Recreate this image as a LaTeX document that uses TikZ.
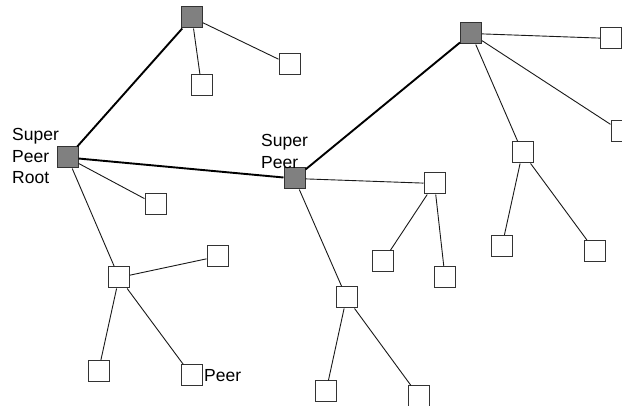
\documentclass[tikz,border=0pt]{standalone}
\usepackage{fontspec}
\setmainfont{Liberation Sans}
\begin{document}
\begin{tikzpicture}[x=1pt,y=-1pt,
  peer/.style={rectangle,draw=black!80,line width=1pt,fill=white,minimum size=21pt,inner sep=0pt},
  super/.style={peer,fill=black!50},
  thin/.style={line width=0.9pt,black!90},
  strong/.style={line width=1.9pt,black},
  lbl/.style={anchor=base west,inner sep=0pt,font=\fontsize{17.5}{21.5}\selectfont}]
\useasboundingbox (0,0) rectangle (622,406);
\clip (0,0) rectangle (622,406);
% super peers
\node[super] (root) at (67.5,157.5) {};
\node[super] (A) at (192,17.5) {};
\node[super] (B) at (294.5,178.5) {};
\node[super] (C) at (471,33.5) {};
% peers
\node[peer] (a1) at (201.5,85.5) {};
\node[peer] (a2) at (289.5,64.5) {};
\node[peer] (r1) at (155.5,204.5) {};
\node[peer] (r2) at (119,277.5) {};
\node[peer] (r21) at (217.5,256.5) {};
\node[peer] (r22) at (98.5,371) {};
\node[peer] (r23) at (191.5,375.5) {};
\node[peer] (b1) at (434.5,183.5) {};
\node[peer] (b2) at (346.5,297.5) {};
\node[peer] (b11) at (383,261.5) {};
\node[peer] (b12) at (445,277) {};
\node[peer] (b21) at (326,391.5) {};
\node[peer] (b22) at (419,396.5) {};
\node[peer] (c1) at (611,38.5) {};
\node[peer] (c2) at (621.5,131.5) {};
\node[peer] (c3) at (522.5,152.5) {};
\node[peer] (c31) at (502,246) {};
\node[peer] (c32) at (595,251) {};
% connectors
\draw[strong] (root) -- (A);
\draw[strong] (root) -- (B);
\draw[strong] (B) -- (C);
\draw[thin] (A) -- (a1);
\draw[thin] (A) -- (a2);
\draw[thin] (root) -- (r1);
\draw[thin] (root) -- (r2);
\draw[thin] (r2) -- (r21);
\draw[thin] (r2) -- (r22);
\draw[thin] (r2) -- (r23);
\draw[thin] (B) -- (b1);
\draw[thin] (B) -- (b2);
\draw[thin] (b1) -- (b11);
\draw[thin] (b1) -- (b12);
\draw[thin] (b2) -- (b21);
\draw[thin] (b2) -- (b22);
\draw[thin] (C) -- (c1);
\draw[thin] (C) -- (c2);
\draw[thin] (C) -- (c3);
\draw[thin] (c3) -- (c31);
\draw[thin] (c3) -- (c32);
% labels
\node[lbl] (l1) at (12,141) {Super};
\node[lbl] (l2) at (12,162.5) {Peer};
\node[lbl] (l3) at (12,184) {Root};
\node[lbl] (l4) at (261,147) {Super};
\node[lbl] (l5) at (261,168.5) {Peer};
\node[lbl] (l6) at (204,382) {Peer};
\end{tikzpicture}
\end{document}
